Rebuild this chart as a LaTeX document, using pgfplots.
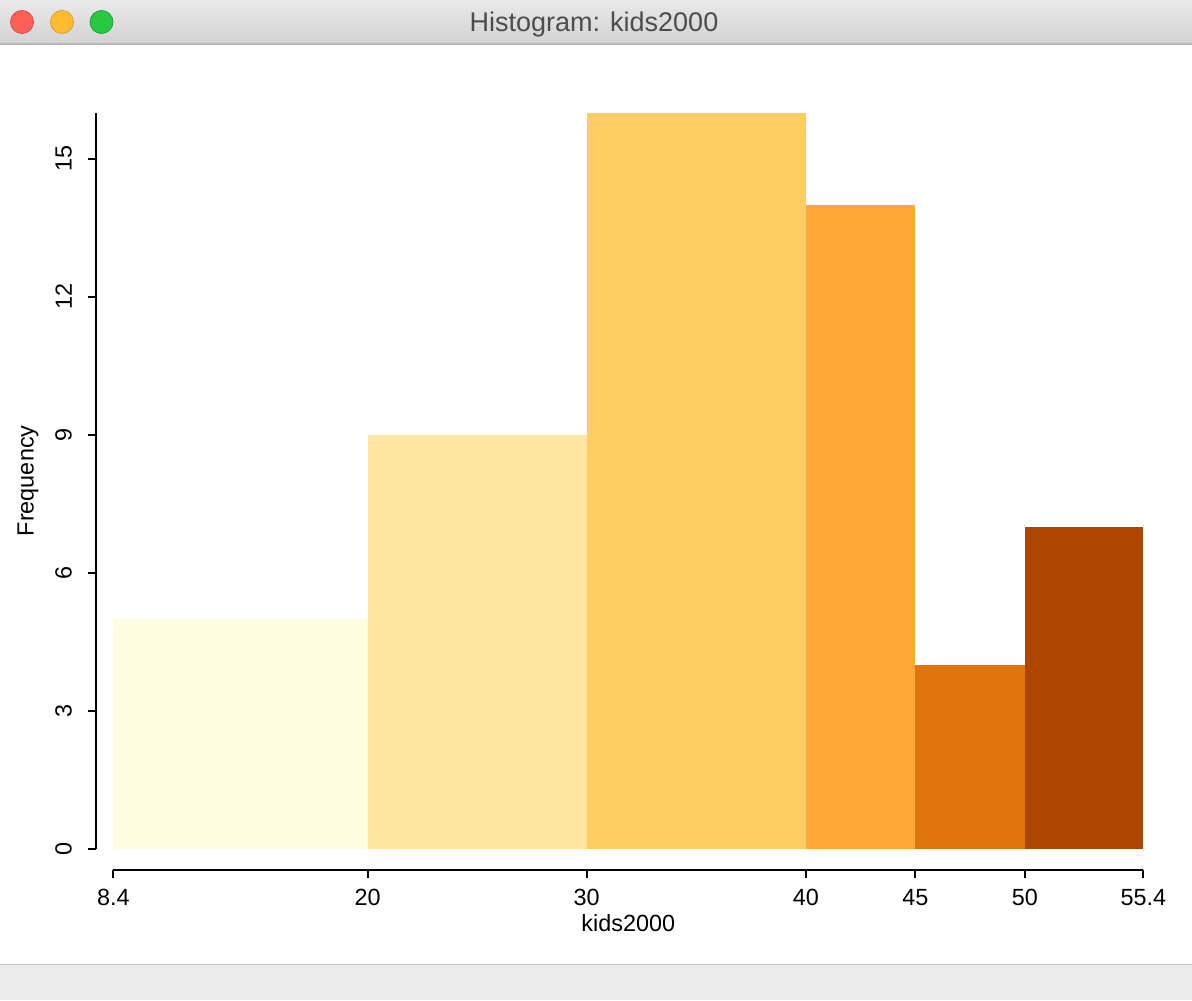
\documentclass[border=0pt]{standalone}
\usepackage{fontspec}
\setmainfont{Liberation Sans}
\usepackage{pgfplots}
\pgfplotsset{compat=1.18}
\definecolor{b1}{HTML}{FFFDE1}
\definecolor{b2}{HTML}{FEE6A0}
\definecolor{b3}{HTML}{FDCC62}
\definecolor{b4}{HTML}{FEA935}
\definecolor{b5}{HTML}{E0740D}
\definecolor{b6}{HTML}{AD4600}
\definecolor{titlegray}{HTML}{4D4D4D}
\begin{document}
\begin{tikzpicture}[x=0.5pt,y=0.5pt]
\useasboundingbox (0,0) rectangle (1192,1000);
\fill[white] (0,0) rectangle (1192,1000);
% window chrome
\shade[top color={rgb,255:red,233;green,233;blue,233}, bottom color={rgb,255:red,211;green,211;blue,211}] (0,956) rectangle (1192,1000);
\draw[color={rgb,255:red,185;green,185;blue,185}, line width=0.6pt] (0,956) -- (1192,956);
\fill[color={rgb,255:red,236;green,236;blue,236}] (0,0) rectangle (1192,35);
\draw[color={rgb,255:red,200;green,200;blue,200}, line width=0.6pt] (0,35.5) -- (1192,35.5);
\filldraw[fill={rgb,255:red,254;green,95;blue,87}, draw={rgb,255:red,226;green,70;blue,63}, line width=0.4pt] (22,978) circle (11.5);
\filldraw[fill={rgb,255:red,254;green,188;blue,46}, draw={rgb,255:red,222;green,160;blue,35}, line width=0.4pt] (62,978) circle (11.5);
\filldraw[fill={rgb,255:red,40;green,200;blue,64}, draw={rgb,255:red,30;green,165;blue,50}, line width=0.4pt] (101.5,978) circle (11.5);
\node[font=\fontsize{13.5}{16}\selectfont, text=titlegray, anchor=base] at (594,968) {Histogram: kids2000};
\begin{axis}[
  at={(56.65pt,75.65pt)}, anchor=south west,
  scale only axis, width=515pt, height=367.85pt,
  xmin=8.4, xmax=55.4, ymin=0, ymax=16,
  axis x line*=bottom, axis y line*=left,
  axis x line shift=10.65pt, axis y line shift=8.65pt,
  axis line style={-, line width=1pt, black},
  tick align=outside, major tick length=4pt,
  tick style={black, line width=1pt},
  xtick={8.4,20,30,40,45,50,55.4},
  xticklabels={8.4,20,30,40,45,50,55.4},
  ytick={0,3,6,9,12,15},
  yticklabels={0,3,6,9,12,15},
  /pgf/number format/assume math mode=true,
  ticklabel style={font=\fontsize{11.7}{14}\selectfont},
  yticklabel style={rotate=90, anchor=south},
  xticklabel shift=2pt, yticklabel shift=4.5pt,
  xlabel={kids2000}, ylabel={Frequency},
  label style={font=\fontsize{11.7}{14}\selectfont},
  x label style={at={(axis description cs:0.5,-0.1128)}, anchor=base},
  y label style={at={(axis description cs:-0.0828,0.5)}, anchor=center, rotate=0},
  clip=false,
]
\addplot[ybar interval, fill=b1, draw=none] coordinates {(8.4,5) (20,5)};
\addplot[ybar interval, fill=b2, draw=none] coordinates {(20,9) (30,9)};
\addplot[ybar interval, fill=b3, draw=none] coordinates {(30,16) (40,16)};
\addplot[ybar interval, fill=b4, draw=none] coordinates {(40,14) (45,14)};
\addplot[ybar interval, fill=b5, draw=none] coordinates {(45,4) (50,4)};
\addplot[ybar interval, fill=b6, draw=none] coordinates {(50,7) (55.4,7)};
\end{axis}
\end{tikzpicture}
\end{document}
